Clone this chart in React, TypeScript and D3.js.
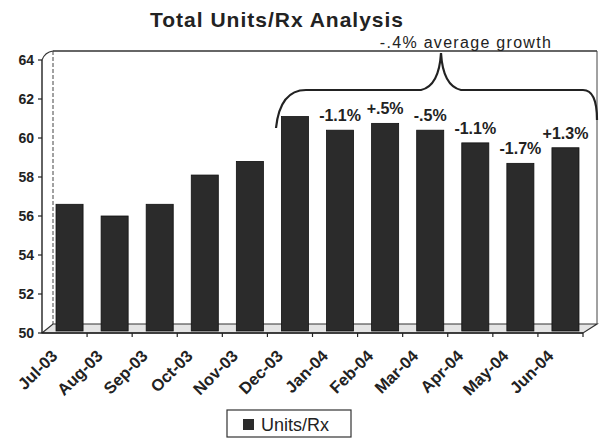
import React from "react";
import * as d3 from "d3";

const categories = ["Jul-03","Aug-03","Sep-03","Oct-03","Nov-03","Dec-03","Jan-04","Feb-04","Mar-04","Apr-04","May-04","Jun-04"];
const unitsPerRx = [56.6, 56.0, 56.6, 58.1, 58.8, 61.1, 60.4, 60.75, 60.4, 59.75, 58.7, 59.5];
const growthLabels = ["", "", "", "", "", "", "-1.1%", "+.5%", "-.5%", "-1.1%", "-1.7%", "+1.3%"];
const yTicks = [50, 52, 54, 56, 58, 60, 62, 64];
const title = "Total Units/Rx Analysis";
const braceLabel = "-.4% average growth";
const seriesName = "Units/Rx";

const W = 599, H = 439;
const FONT = "'Liberation Sans', Arial, sans-serif";

export default function App() {
  const x0 = 42, x1 = 583, depthX = 11, depthY = 9;
  const y = d3.scaleLinear().domain([50, 64]).range([333, 60]);
  const xFront = d3.scaleBand<string>().domain(categories).range([x0, x1]);
  const xBar = d3.scaleBand<string>().domain(categories).range([x0 + 5, x1 + 5]).paddingInner(0.4).paddingOuter(0.2);
  const yFloor = y(50);
  const barColor = "#2b2b2b";

  const floorPath = `M${x0},${yFloor} L${x1},${yFloor} L${x1 + depthX + 3},${yFloor - depthY} L${x0 + depthX},${yFloor - depthY} Z`;

  const braceL = 276, braceR = 597, braceMid = 441, braceY = 90, braceTop = 53;
  const bracePath = `M${braceL},${128} Q${braceL + 4},${braceY} ${braceL + 30},${braceY} L${braceMid - 20},${braceY} Q${braceMid - 2},${braceY - 4} ${braceMid},${braceTop} Q${braceMid + 2},${braceY - 4} ${braceMid + 20},${braceY} L${braceR - 14},${braceY} Q${braceR},${braceY} ${braceR},${braceY + 30}`;

  return (
    <svg width={W} height={H} style={{ position: "absolute", left: 0, top: 0, background: "#fff" }} fontFamily={FONT}>
      <rect x={0} y={0} width={W} height={H} fill="#fff" />
      <text x={277} y={27} textAnchor="middle" fontSize={21} fontWeight="bold" letterSpacing={1} fill="#222">{title}</text>

      {/* back wall frame */}
      <line x1={x0 + depthX} y1={51} x2={597} y2={51} stroke="#333" strokeWidth={1.3} />
      <line x1={x0 + depthX} y1={51} x2={x0 + depthX} y2={yFloor - depthY} stroke="#444" strokeWidth={1} strokeDasharray="4,2" />
      <line x1={597} y1={51} x2={597} y2={yFloor - depthY} stroke="#444" strokeWidth={1} />
      <path d={`M${x0},${y(64)} Q${x0 + 3},${52} ${x0 + depthX},${51}`} fill="none" stroke="#333" strokeWidth={1.2} />

      {/* floor */}
      <path d={floorPath} fill="#e4e4e4" stroke="#333" strokeWidth={1.2} />

      {/* bars */}
      {categories.map((c, i) => (
        <rect key={c} x={xBar(c)} y={y(unitsPerRx[i])} width={xBar.bandwidth()} height={yFloor - 2 - y(unitsPerRx[i])} fill={barColor} stroke="#111" strokeWidth={0.8} />
      ))}

      {/* y axis */}
      <line x1={x0} y1={y(64)} x2={x0} y2={yFloor} stroke="#222" strokeWidth={1.4} />
      {yTicks.map(t => (
        <g key={t}>
          <line x1={x0 - 4} x2={x0} y1={y(t)} y2={y(t)} stroke="#222" strokeWidth={1.2} />
          <text x={34} y={y(t)} dy="0.35em" textAnchor="end" fontSize={14} fontWeight="bold" fill="#222">{t}</text>
        </g>
      ))}

      {/* x axis */}
      <line x1={x0} y1={yFloor} x2={x1} y2={yFloor} stroke="#222" strokeWidth={1.4} />
      {categories.map(c => (
        <line key={"t" + c} x1={(xFront(c) as number) + xFront.bandwidth()} x2={(xFront(c) as number) + xFront.bandwidth()} y1={yFloor} y2={yFloor + 4} stroke="#222" strokeWidth={1.2} />
      ))}
      {categories.map(c => {
        const cx = (xFront(c) as number) + xFront.bandwidth() / 2 - 6;
        return (
          <text key={"l" + c} transform={`translate(${cx},357) rotate(-45)`} textAnchor="end" fontSize={16.5} fontWeight="bold" fill="#222">{c}</text>
        );
      })}

      {/* growth labels */}
      {categories.map((c, i) => growthLabels[i] ? (
        <text key={"g" + c} x={(xBar(c) as number) + xBar.bandwidth() / 2} y={y(unitsPerRx[i]) - 9} textAnchor="middle" fontSize={16} fill="#222" fontWeight="bold">{growthLabels[i]}</text>
      ) : null)}

      {/* brace */}
      <path d={bracePath} fill="none" stroke="#222" strokeWidth={2.2} />
      <text x={466} y={48} textAnchor="middle" fontSize={16} letterSpacing={1.3} fill="#222">{braceLabel}</text>

      {/* legend */}
      <rect x={227} y={410} width={124} height={27} fill="#fff" stroke="#333" strokeWidth={1.2} />
      <rect x={243} y={419} width={11} height={11} fill={barColor} />
      <text x={261} y={431} fontSize={18} fill="#222">{seriesName}</text>
    </svg>
  );
}
